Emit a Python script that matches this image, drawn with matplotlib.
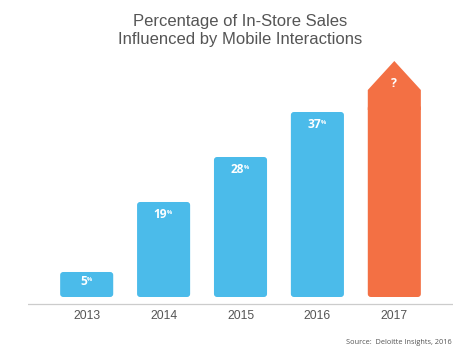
import numpy as np
import matplotlib.pyplot as plt
from matplotlib.patches import FancyBboxPatch, Polygon

# data
years = ["2013", "2014", "2015", "2016", "2017"]
values = [5, 19, 28, 37]          # known years (%)
labels = ["5", "19", "28", "37"]
est_2017_body = 41.4               # height of the arrow body for 2017 (no value given)
est_2017_tip = 47.2                # tip of the arrow head
label_2017 = "?"

blue = "#4bbbea"
orange = "#f37044"
grey = "#555555"

fig = plt.figure(figsize=(4.66, 3.61), dpi=100)
ax = fig.add_axes([0.0601, 0.1496, 0.912, 0.7202])
ax.set_xlim(-0.763, 4.763)
ax.set_ylim(-2, 50)

w = 0.69
r = 0.04
asp = 15.0

def rbar(x, h, color):
    p = FancyBboxPatch((x - w / 2, 0), w, h,
                       boxstyle=f"round,pad=0,rounding_size={r}",
                       mutation_aspect=asp, fc=color, ec="none")
    ax.add_patch(p)

def value_label(x, y, num):
    t = ax.text(x - 0.04, y, num, ha="center", va="center", color="white",
                fontsize=8.6, fontweight="bold", family="Open Sans")
    ax.annotate("%", xy=(1, 0.72), xycoords=t, ha="left", va="center",
                color="white", fontsize=4.2, fontweight="bold", family="Open Sans")

for i, (v, lab) in enumerate(zip(values, labels)):
    rbar(i, v, blue)
    value_label(i, max(v - 2.6, 0.6 * v), lab)

# 2017: arrow with unknown value
x5 = len(values)
rbar(x5, est_2017_body - 3, orange)
ax.add_patch(Polygon([(x5 - w / 2, est_2017_body - 4), (x5 - w / 2, est_2017_body),
                      (x5, est_2017_tip), (x5 + w / 2, est_2017_body),
                      (x5 + w / 2, est_2017_body - 4)], closed=True, fc=orange, ec="none"))
ax.text(x5, 42.8, label_2017, ha="center", va="center", color="white",
        fontsize=8.8, fontweight="bold", family="Open Sans")

ax.axhline(-1.4, color="#cccccc", lw=0.9)

ax.set_xticks(range(len(years)))
ax.set_xticklabels(years, fontsize=8.7, color=grey, family="Liberation Sans")
ax.tick_params(axis="x", length=0, pad=2.5)
ax.set_yticks([])
for s in ax.spines.values():
    s.set_visible(False)

fig.text(0.516, 0.915, "Percentage of In-Store Sales\nInfluenced by Mobile Interactions",
         ha="center", va="center", fontsize=12, color=grey, family="Liberation Sans",
         linespacing=1.25)
fig.text(0.97, 0.05, "Source:  Deloitte Insights, 2016", ha="right", va="center",
         fontsize=5.3, color="#555555", family="Open Sans")

fig.savefig("out.png", dpi=100)
